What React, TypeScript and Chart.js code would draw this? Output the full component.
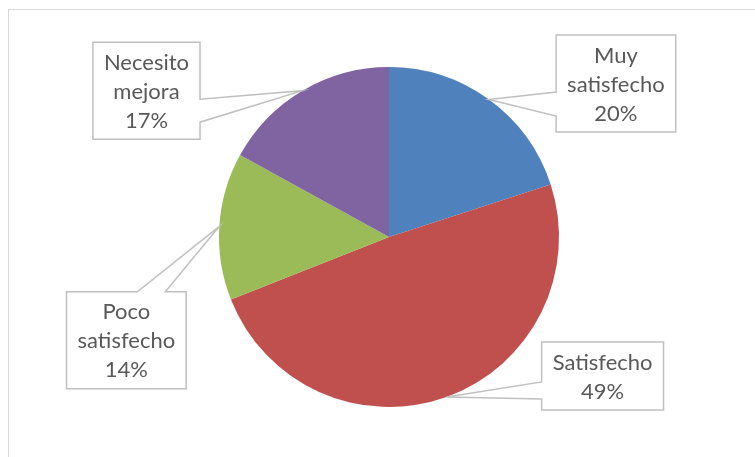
import React, { useEffect, useRef } from "react";
import { Chart, registerables } from "chart.js";

Chart.register(...registerables);

const categories = ["Muy satisfecho", "Satisfecho", "Poco satisfecho", "Necesito mejora"];
const values = [20, 49, 14, 17];
const colors = ["#4F81BD", "#C0504D", "#9BBB59", "#8064A2"];

// callout layout: box centre offset from the slice anchor, wedge side and base offsets
const calloutLayout = [
  { dx: 127, dy: -16, side: "left", a: 8.5, b: 32.5 },
  { dx: 156, dy: -21, side: "left", a: 6, b: 23 },
  { dx: -93, dy: 114, side: "top", a: 11, b: 39 },
  { dx: -156, dy: 0, side: "right", a: 8.5, b: 31.5 },
];

const FONT = "22px Lato";
const LINE_H = 29;
const PAD_X = 11;
const PAD_Y = 5;

const calloutPlugin = {
  id: "callouts",
  afterDatasetsDraw(chart: any) {
    const meta = chart.getDatasetMeta(0);
    const ctx = chart.ctx as CanvasRenderingContext2D;
    const data = chart.data.datasets[0].data as number[];
    const total = data.reduce((s, v) => s + v, 0);
    meta.data.forEach((arc: any, i: number) => {
      const p = arc.getProps(["x", "y", "startAngle", "endAngle", "outerRadius"], true);
      const mid = (p.startAngle + p.endAngle) / 2;
      const ax = p.x + Math.cos(mid) * p.outerRadius;
      const ay = p.y + Math.sin(mid) * p.outerRadius;
      const lay = calloutLayout[i];
      const lines = [...String(chart.data.labels[i]).split(" "), Math.round((data[i] / total) * 100) + "%"];
      ctx.save();
      ctx.font = FONT;
      const tw = Math.max(...lines.map((l) => ctx.measureText(l).width));
      const w = tw + 2 * PAD_X;
      const h = lines.length * LINE_H + 2 * PAD_Y;
      const cx = ax + lay.dx;
      const cy = ay + lay.dy;
      const x1 = cx - w / 2, x2 = cx + w / 2, y1 = cy - h / 2, y2 = cy + h / 2;
      ctx.beginPath();
      if (lay.side === "right") {
        ctx.moveTo(x1, y1); ctx.lineTo(x2, y1); ctx.lineTo(x2, cy + lay.a); ctx.lineTo(ax, ay);
        ctx.lineTo(x2, cy + lay.b); ctx.lineTo(x2, y2); ctx.lineTo(x1, y2);
      } else if (lay.side === "left") {
        ctx.moveTo(x1, y1); ctx.lineTo(x2, y1); ctx.lineTo(x2, y2); ctx.lineTo(x1, y2);
        ctx.lineTo(x1, cy + lay.b); ctx.lineTo(ax, ay); ctx.lineTo(x1, cy + lay.a);
      } else {
        ctx.moveTo(x1, y1); ctx.lineTo(cx + lay.a, y1); ctx.lineTo(ax, ay); ctx.lineTo(cx + lay.b, y1);
        ctx.lineTo(x2, y1); ctx.lineTo(x2, y2); ctx.lineTo(x1, y2);
      }
      ctx.closePath();
      ctx.fillStyle = "#ffffff";
      ctx.fill();
      ctx.lineWidth = 1.5;
      ctx.strokeStyle = "#c0c0c0";
      ctx.lineJoin = "miter";
      ctx.stroke();
      ctx.fillStyle = "#595959";
      ctx.textAlign = "center";
      ctx.textBaseline = "middle";
      const top = cy - ((lines.length - 1) * LINE_H) / 2;
      lines.forEach((l, k) => ctx.fillText(l, cx, top + k * LINE_H + 1));
      ctx.restore();
    });
  },
};

export default function App() {
  const ref = useRef<HTMLCanvasElement>(null);
  useEffect(() => {
    if (!ref.current) return;
    const chart = new Chart(ref.current, {
      type: "pie",
      data: {
        labels: categories,
        datasets: [{ data: values, backgroundColor: colors, borderWidth: 0 }],
      },
      options: {
        responsive: false,
        animation: false,
        devicePixelRatio: 1,
        layout: { padding: { top: 67, bottom: 50, left: 219, right: 196 } },
        plugins: { legend: { display: false }, tooltip: { enabled: false } },
      },
      plugins: [calloutPlugin],
    });
    return () => chart.destroy();
  }, []);
  return (
    <div style={{ position: "fixed", left: 0, top: 0, width: 755, height: 457, overflow: "hidden", background: "#fff" }}>
      <div
        style={{
          position: "absolute",
          left: 8,
          top: 9,
          width: 900,
          height: 600,
          borderLeft: "1px solid #d9d9d9",
          borderTop: "1px solid #d9d9d9",
        }}
      />
      <canvas ref={ref} width={755} height={457} style={{ position: "absolute", left: 0, top: 0 }} />
    </div>
  );
}
